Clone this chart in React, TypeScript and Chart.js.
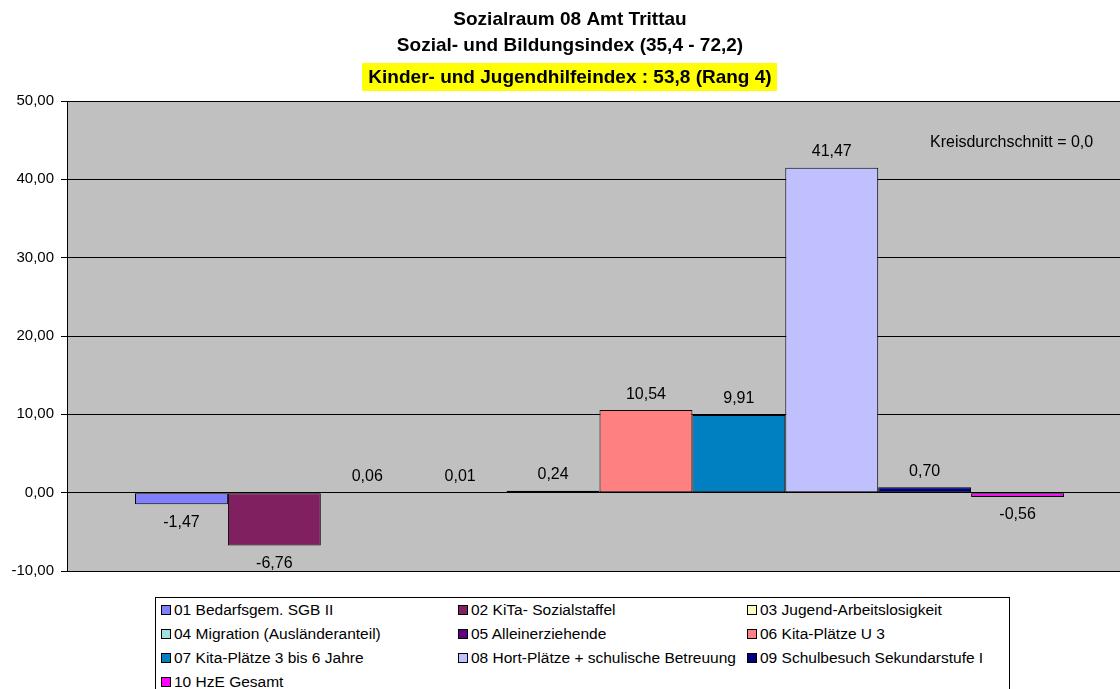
import React, { useEffect, useRef } from "react";
import { Chart, registerables } from "chart.js";

Chart.register(...registerables);

const categories = [""];
const seriesNames = [
  "01 Bedarfsgem. SGB II",
  "02 KiTa- Sozialstaffel",
  "03 Jugend-Arbeitslosigkeit",
  "04 Migration (Ausländeranteil)",
  "05 Alleinerziehende",
  "06 Kita-Plätze U 3",
  "07 Kita-Plätze  3 bis 6 Jahre",
  "08 Hort-Plätze + schulische Betreuung",
  "09 Schulbesuch Sekundarstufe I",
  "10 HzE Gesamt",
];
const seriesValues = [-1.47, -6.76, 0.06, 0.01, 0.24, 10.54, 9.91, 41.47, 0.7, -0.56];
const seriesColors = [
  "#8080FF",
  "#802060",
  "#FFFFC0",
  "#A0E0E0",
  "#600080",
  "#FF8080",
  "#0080C0",
  "#C0C0FF",
  "#000080",
  "#FF00FF",
];
const yTicks = [-10, 0, 10, 20, 30, 40, 50];
const titleLines = ["Sozialraum 08 Amt Trittau", "Sozial- und Bildungsindex (35,4 - 72,2)"];
const highlightTitle = "Kinder- und Jugendhilfeindex : 53,8 (Rang 4)";
const annotation = "Kreisdurchschnitt = 0,0";

const fmt = (v: number) => v.toFixed(2).replace(".", ",");

const FONT = "Arial, 'Liberation Sans', sans-serif";

export default function App() {
  const ref = useRef<HTMLCanvasElement | null>(null);

  useEffect(() => {
    document.body.style.overflow = "hidden";
    const canvas = ref.current!;
    const decor = {
      id: "decor",
      beforeDraw(chart: any) {
        const ctx = chart.ctx;
        ctx.save();
        ctx.fillStyle = "#ffffff";
        ctx.fillRect(0, 0, chart.width, chart.height);
        const a = chart.chartArea;
        ctx.fillStyle = "#C0C0C0";
        ctx.fillRect(a.left, a.top, a.right - a.left, a.bottom - a.top);
        ctx.restore();
      },
      afterDraw(chart: any) {
        const ctx = chart.ctx;
        ctx.save();
        ctx.fillStyle = "#000";
        ctx.textAlign = "center";
        ctx.textBaseline = "alphabetic";
        ctx.font = `bold 19px ${FONT}`;
        ctx.fillText(titleLines[0], 570, 25);
        ctx.fillText(titleLines[1], 570, 51);
        ctx.fillStyle = "#FFFF00";
        ctx.fillRect(362, 63, 415, 28);
        ctx.fillStyle = "#000";
        ctx.font = `bold 19px ${FONT}`;
        ctx.fillText(highlightTitle, 570, 83);
        ctx.font = `16px ${FONT}`;
        ctx.textAlign = "left";
        ctx.fillText(annotation, 930, 147);
        // value labels
        ctx.textAlign = "center";
        ctx.textBaseline = "middle";
        chart.data.datasets.forEach((ds: any, i: number) => {
          const meta = chart.getDatasetMeta(i);
          const el = meta.data[0];
          const v = ds.data[0];
          if (v >= 0) {
            ctx.fillText(fmt(v), el.x, el.y - 16);
          } else {
            ctx.fillText(fmt(v), el.x, el.y + 18);
          }
        });
        ctx.restore();
      },
    };

    const chart = new Chart(canvas, {
      type: "bar",
      data: {
        labels: categories,
        datasets: seriesNames.map((name, i) => ({
          label: name,
          data: [seriesValues[i]],
          backgroundColor: seriesColors[i],
          borderColor: "#000",
          borderWidth: 1,
          borderSkipped: false,
          categoryPercentage: 0.8723,
          barPercentage: 1,
        })),
      },
      options: {
        responsive: false,
        animation: false,
        devicePixelRatio: 1,
        layout: { padding: { top: 101, bottom: 118, left: 0, right: 8 } },
        plugins: {
          legend: { display: false },
          tooltip: { enabled: false },
          title: { display: false },
        },
        scales: {
          x: {
            display: false,
          },
          y: {
            min: -10,
            max: 50,
            afterFit(scale: any) {
              scale.width = 67;
            },
            afterBuildTicks(scale: any) {
              scale.ticks = yTicks.map((v) => ({ value: v }));
            },
            grid: {
              color: "#000",
              lineWidth: 1,
              tickLength: 6,
              drawTicks: true,
            },
            border: { color: "#000", width: 1 },
            ticks: {
              color: "#000",
              font: { family: FONT, size: 15 },
              padding: 7,
              callback: (v: any) => fmt(Number(v)),
            },
          },
        },
      },
      plugins: [decor],
    });
    return () => chart.destroy();
  }, []);

  const rows: number[][] = [];
  for (let i = 0; i < seriesNames.length; i += 3) {
    rows.push([i, i + 1, i + 2].filter((k) => k < seriesNames.length));
  }
  const colX = [5, 302, 591];

  return (
    <div
      style={{
        position: "fixed",
        left: 0,
        top: 0,
        width: 1120,
        height: 689,
        overflow: "hidden",
        background: "#fff",
      }}
    >
      <canvas ref={ref} width={1140} height={689} style={{ width: 1140, height: 689, display: "block" }} />
      <div
        style={{
          position: "absolute",
          left: 155,
          top: 597,
          width: 855,
          height: 110,
          border: "1px solid #000",
          background: "#fff",
          boxSizing: "border-box",
          fontFamily: FONT,
          fontSize: 15.5,
          color: "#000",
        }}
      >
        {rows.map((row, r) =>
          row.map((k, c) => (
            <div
              key={k}
              style={{
                position: "absolute",
                left: colX[c],
                top: 4 + r * 24,
                height: 16,
                display: "flex",
                alignItems: "center",
                whiteSpace: "nowrap",
              }}
            >
              <span
                style={{
                  display: "inline-block",
                  width: 8,
                  height: 8,
                  border: "1px solid #000",
                  background: seriesColors[k],
                  marginRight: 3,
                  flex: "none",
                }}
              />
              <span>{seriesNames[k]}</span>
            </div>
          ))
        )}
      </div>
    </div>
  );
}
